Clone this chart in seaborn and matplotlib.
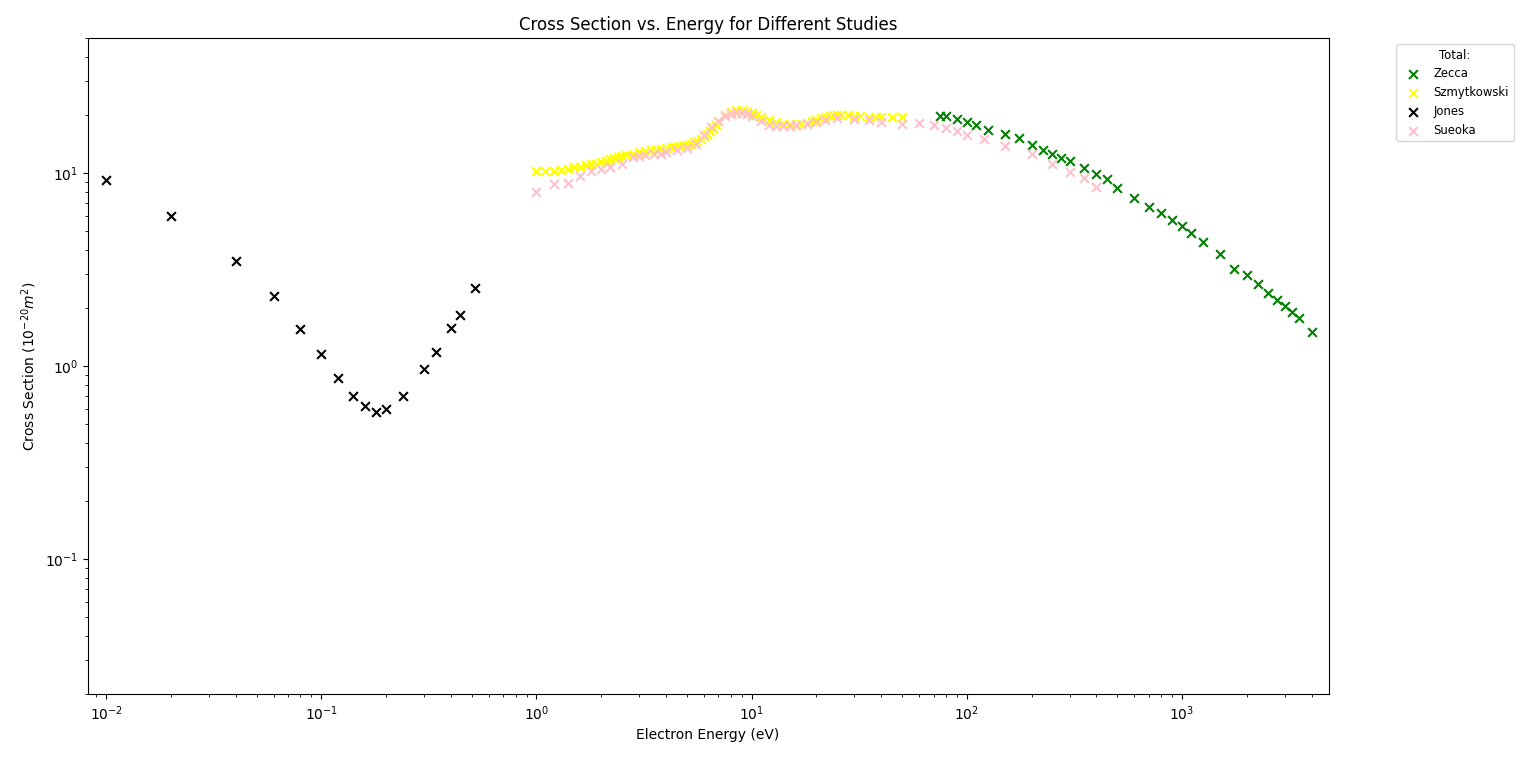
import matplotlib
matplotlib.use("Agg")
import matplotlib.pyplot as plt
import seaborn as sns
import pandas as pd

zecca_x = [75,80,90,100,110,125,150,175,200,225,250,275,300,350,400,450,500,600,700,800,900,1000,1100,1250,1500,1750,2000,2250,2500,2750,3000,3250,3500,4000]
zecca_y = [19.8,19.8,19.0,18.3,17.8,16.8,16.0,15.2,14.0,13.2,12.6,12.0,11.6,10.6,9.9,9.3,8.4,7.4,6.7,6.2,5.7,5.3,4.9,4.4,3.8,3.2,2.95,2.65,2.4,2.2,2.05,1.9,1.78,1.5]

szy_x = [1.0,1.1,1.2,1.3,1.4,1.5,1.6,1.7,1.8,1.9,2.0,2.1,2.2,2.3,2.4,2.5,2.6,2.8,3.0,3.2,3.4,3.6,3.8,4.0,4.2,4.4,4.6,4.8,5.0,5.2,5.4,5.6,5.8,6.0,6.2,6.4,6.6,6.8,7.0,7.5,8.0,8.5,9.0,9.5,10,10.5,11,12,13,14,15,16,17,18,19,20,21,22,23,24,25,26,28,30,32,35,38,40,45,50]
szy_y = [10.2,10.3,10.3,10.4,10.5,10.7,10.8,11.0,11.1,11.2,11.4,11.6,11.8,12.0,12.1,12.3,12.4,12.6,12.8,13.0,13.1,13.2,13.4,13.5,13.6,13.7,13.8,13.9,14.0,14.2,14.4,14.6,15.0,15.5,16.0,16.5,17.2,17.8,18.5,20.0,20.8,21.2,21.3,21.0,20.5,20.0,19.5,18.8,18.3,18.0,17.9,17.8,18.0,18.2,18.5,18.8,19.2,19.5,19.8,20.0,20.1,20.0,19.9,19.8,19.7,19.6,19.6,19.6,19.5,19.4]

jones_x = [0.01,0.02,0.04,0.06,0.08,0.1,0.12,0.14,0.16,0.18,0.2,0.24,0.3,0.34,0.4,0.44,0.52]
jones_y = [9.2,6.0,3.5,2.3,1.55,1.15,0.87,0.70,0.62,0.58,0.60,0.70,0.97,1.18,1.58,1.85,2.55]

sueoka_x = [1,1.2,1.4,1.6,1.8,2,2.2,2.5,2.8,3,3.2,3.5,3.8,4,4.5,5,5.5,6,6.5,7,7.5,8,8.5,9,9.5,10,11,12,13,14,15,16,18,20,22,25,30,35,40,50,60,70,80,90,100,120,150,200,250,300,350,400]
sueoka_y = [8.0,8.8,8.9,9.6,10.2,10.5,10.8,11.2,12.1,12.2,12.4,12.5,12.6,12.9,13.2,13.5,14.1,15.8,17.4,18.6,19.8,20.2,20.5,20.5,20.3,19.8,18.5,17.8,17.6,17.6,17.6,17.7,18.0,18.4,18.9,19.2,19.0,18.8,18.3,17.9,18.2,17.8,17.2,16.6,15.8,15.0,13.8,12.5,11.2,10.1,9.4,8.5]

series = [("Zecca", zecca_x, zecca_y, "green"),
          ("Szmytkowski", szy_x, szy_y, "yellow"),
          ("Jones", jones_x, jones_y, "black"),
          ("Sueoka", sueoka_x, sueoka_y, "pink")]

fig = plt.figure(figsize=(15.36, 7.62), dpi=100)
ax = fig.add_axes([0.057, 0.089, 0.808, 0.861])
for name, xs, ys, c in series:
    df = pd.DataFrame({"x": xs, "y": ys})
    sns.scatterplot(data=df, x="x", y="y", marker="x", color=c, s=40, linewidth=1.5, label=name, ax=ax)
ax.set_xscale("log")
ax.set_yscale("log")
ax.set_xlim(0.0082, 4800)
ax.set_ylim(0.02, 50)
ax.set_xlabel("Electron Energy (eV)")
ax.set_ylabel("Cross Section ($10^{-20} m^2$)")
ax.set_title("Cross Section vs. Energy for Different Studies")
ax.legend(title="Total:", bbox_to_anchor=(1.05, 1), loc="upper left", fontsize="small", title_fontsize="small")
fig.savefig("out.png", dpi=100)
